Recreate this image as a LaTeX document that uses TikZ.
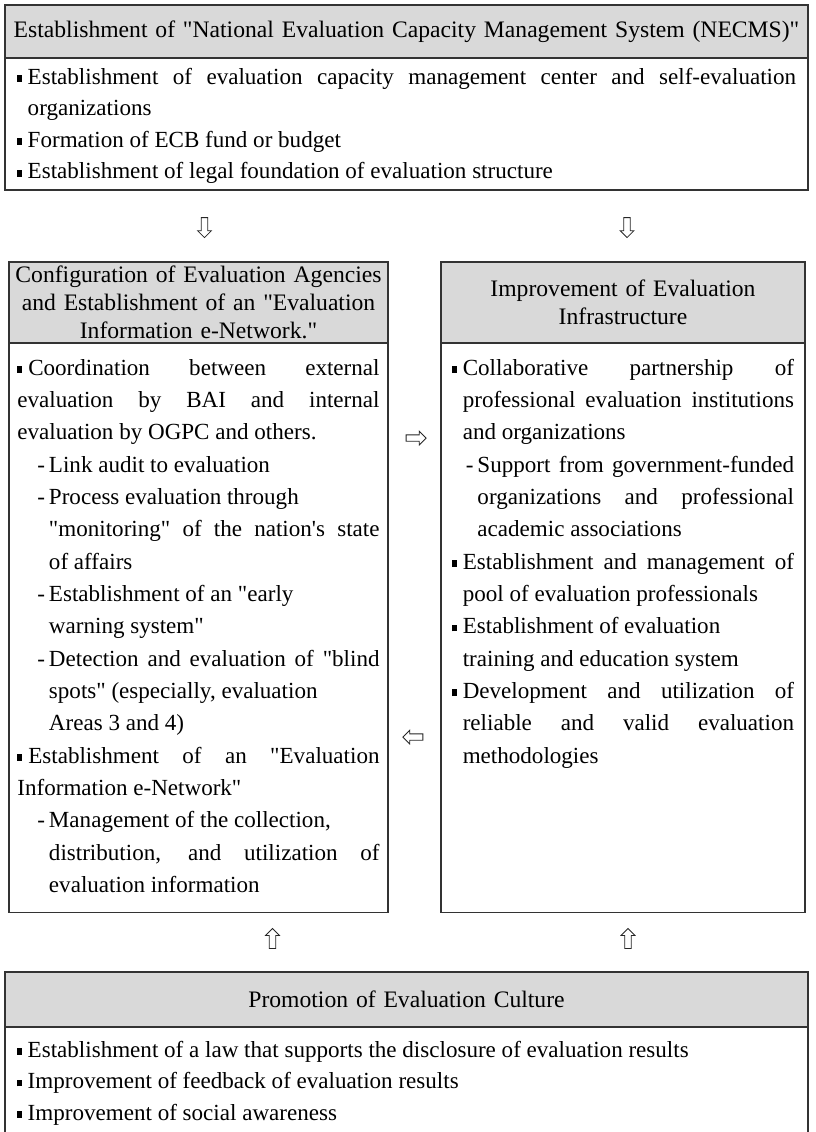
\documentclass[tikz,border=0pt]{standalone}
\usepackage{fontspec}
\setmainfont{Liberation Serif}[Ligatures=TeXOff]
\usetikzlibrary{calc,shapes.arrows}

\newcommand\hdrfont{\fontsize{16.8}{20}\selectfont}
\newcommand\txtfont{\fontsize{16.4}{23}\selectfont\sloppy\hyphenpenalty=10000\exhyphenpenalty=10000}
\newcommand\sqb{\makebox[0.47em][l]{\rule[0.1em]{0.21em}{0.29em}}}
\newcommand\itm[1]{\hangindent=0.47em\hangafter=1\sqb#1\par}
\newcommand\itmflat[1]{\sqb#1\par}
\newcommand\subitm[2]{{\leftskip=#1\hangindent=0.5em\hangafter=1\makebox[0.5em][l]{-}#2\par}}

\begin{document}
\begin{tikzpicture}[x=0.025cm,y=0.025cm,
    hdr/.style={draw=black!80, line width=0.9pt, fill=black!15, outer sep=0pt, inner sep=0pt, align=center, font=\hdrfont},
    txtbox/.style={draw=black!80, line width=0.9pt, outer sep=0pt, inner ysep=0pt, anchor=north, align=justify, font=\txtfont},
    blk/.style={single arrow, draw=black!85, line width=0.6pt, fill=white, inner sep=2pt, minimum height=0.5cm, single arrow head extend=2.6pt, outer sep=0pt}]
  \useasboundingbox (0,0) rectangle (816,1132);

  \node[hdr, minimum width=20.075cm, minimum height=1.325cm, text width=19.75cm] (tophead) at (406.5,1100.5)
    {Establishment of "National Evaluation Capacity Management System (NECMS)"};
  \node[txtbox, text width=19.475cm, inner xsep=0.3cm, text height=0.65cm, text depth=2.65cm,
      font={\txtfont\setlength\baselineskip{22.5pt}}] (topbody) at (tophead.south) {%
    \itm{Establishment of evaluation capacity management center and self-evaluation\linebreak organizations}
    \itm{Formation of ECB fund or budget}
    \itm{Establishment of legal foundation of evaluation structure}};

  \node[hdr, minimum width=9.475cm, minimum height=2.025cm, text width=9.2cm] (lhead) at (198.5,829.5)
    {Configuration of Evaluation Agencies\\and Establishment of an "Evaluation\\Information e-Network."};
  \node[txtbox, text width=9.05cm, inner xsep=0.2125cm, text height=0.8cm, text depth=13.425cm] (lbody) at (lhead.south) {%
    \itmflat{Coordination between external\linebreak evaluation by BAI and internal\linebreak evaluation by OGPC and others.}
    \subitm{0.5cm}{Link audit to evaluation}
    \subitm{0.5cm}{Process evaluation through\newline "monitoring" of the nation's state\linebreak of affairs}
    \subitm{0.5cm}{Establishment of an "early\newline warning system"}
    \subitm{0.5cm}{Detection and evaluation of "blind\linebreak spots" (especially, evaluation\newline Areas 3 and 4)}
    \itmflat{Establishment of an "Evaluation\linebreak Information e-Network"}
    \subitm{0.5cm}{Management of the collection,\newline distribution, and utilization of\linebreak evaluation information}};

  \node[hdr, minimum width=9.1cm, minimum height=2.025cm, text width=8.8cm] (rhead) at (623,829.5)
    {Improvement of Evaluation\\Infrastructure};
  \node[txtbox, text width=8.55cm, inner xsep=0.275cm, text height=0.8cm, text depth=13.425cm] (rbody) at (rhead.south) {%
    \itm{Collaborative partnership of\linebreak professional evaluation institutions\linebreak and organizations}
    \subitm{0.35cm}{Support from government-funded\linebreak organizations and professional\linebreak academic associations}
    \itm{Establishment and management of\linebreak pool of evaluation professionals}
    \itm{Establishment of evaluation\newline training and education system}
    \itm{Development and utilization of\linebreak reliable and valid evaluation\linebreak methodologies}};

  \node[hdr, minimum width=20.075cm, minimum height=1.375cm, text width=19.75cm] (bhead) at (406.5,132.5)
    {Promotion of Evaluation Culture};
  \node[txtbox, draw=none, text width=19.475cm, inner xsep=0.3cm, text height=0.75cm, text depth=1.875cm,
      font={\txtfont\setlength\baselineskip{22.5pt}}] (bbody) at (bhead.south) {%
    \itm{Establishment of a law that supports the disclosure of evaluation results}
    \itm{Improvement of feedback of evaluation results}
    \itm{Improvement of social awareness}};
  \draw[black!80, line width=0.9pt] (bbody.north west) -- (bbody.south west) (bbody.north east) -- (bbody.south east);

  \node[blk, shape border rotate=270] (dnl) at ($(lhead.north)+(6,36)$) {};
  \node[blk, shape border rotate=270] (dnr) at ($(rhead.north)+(4,36)$) {};
  \node[blk] (tor) at ($(lbody.east)!0.5!(rbody.west)+(0,189.5)$) {};
  \node[blk, shape border rotate=180] (tol) at ($(lbody.east)!0.5!(rbody.west)+(0,-109.5)$) {};
  \node[blk, shape border rotate=90] (upl) at ($(lbody.south)+(74,-28)$) {};
  \node[blk, shape border rotate=90] (upr) at ($(rbody.south)+(5,-28)$) {};
\end{tikzpicture}
\end{document}
